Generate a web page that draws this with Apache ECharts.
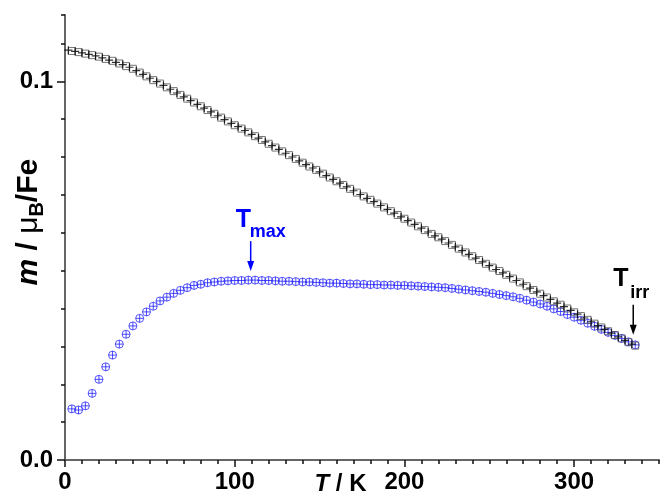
<!DOCTYPE html>
<html>
<head>
<meta charset="utf-8">
<script src="https://cdn.jsdelivr.net/npm/echarts@6/dist/echarts.min.js"></script>
<style>
html,body{margin:0;padding:0;background:#fff;}
#c{width:662px;height:504px;}
</style>
</head>
<body>
<div id="c"></div>
<script>
// ---- data ----
const blackSquareT = [4,8,12,16,20,24,28,32,36,40,44,48,52,56,60,64,68,72,76,80,84,88,92,96,100,104,108,112,116,120,124,128,132,136,140,144,148,152,156,160,164,168,172,176,180,184,188,192,196,200,204,208,212,216,220,224,228,232,236,240,244,248,252,256,260,264,268,272,276,280,284,288,292,296,300,304,308,312,316,320,324,328,332,336];
const blackSquareM = [0.1080,0.1077,0.1073,0.1069,0.1065,0.1059,0.1054,0.1047,0.1040,0.1033,0.1023,0.1013,0.1003,0.0994,0.0984,0.0974,0.0964,0.0954,0.0944,0.0934,0.0924,0.0914,0.0904,0.0894,0.0884,0.0875,0.0865,0.0855,0.0845,0.0835,0.0825,0.0815,0.0805,0.0795,0.0785,0.0775,0.0766,0.0756,0.0746,0.0736,0.0726,0.0716,0.0706,0.0696,0.0687,0.0677,0.0667,0.0657,0.0647,0.0637,0.0627,0.0617,0.0607,0.0597,0.0588,0.0578,0.0568,0.0558,0.0548,0.0538,0.0528,0.0518,0.0508,0.0499,0.0489,0.0479,0.0469,0.0459,0.0449,0.0439,0.0429,0.0419,0.0410,0.0400,0.0390,0.0380,0.0370,0.0360,0.0350,0.0340,0.0330,0.0321,0.0311,0.0302];
const blackCrossT = [2,6,10,14,18,22,26,30,34,38,42,46,50,54,58,62,66,70,74,78,82,86,90,94,98,102,106,110,114,118,122,126,130,134,138,142,146,150,154,158,162,166,170,174,178,182,186,190,194,198,202,206,210,214,218,222,226,230,234,238,242,246,250,254,258,262,266,270,274,278,282,286,290,294,298,302,306,310,314,318,322,326,330,334];
const blackCrossM = [0.1082,0.1079,0.1075,0.1071,0.1067,0.1062,0.1056,0.1050,0.1044,0.1037,0.1028,0.1018,0.1008,0.0999,0.0989,0.0979,0.0969,0.0959,0.0949,0.0939,0.0929,0.0919,0.0909,0.0899,0.0889,0.0880,0.0870,0.0860,0.0850,0.0840,0.0830,0.0820,0.0810,0.0800,0.0790,0.0780,0.0771,0.0761,0.0751,0.0741,0.0731,0.0721,0.0711,0.0701,0.0691,0.0682,0.0672,0.0662,0.0652,0.0642,0.0632,0.0622,0.0612,0.0602,0.0592,0.0583,0.0573,0.0563,0.0553,0.0543,0.0533,0.0523,0.0513,0.0503,0.0494,0.0484,0.0474,0.0464,0.0454,0.0444,0.0434,0.0424,0.0414,0.0405,0.0395,0.0385,0.0375,0.0365,0.0355,0.0345,0.0335,0.0325,0.0316,0.0306];
const blueT = [4,8,12,16,20,24,28,32,36,40,44,48,52,56,60,64,68,72,76,80,84,88,92,96,100,104,108,112,116,120,124,128,132,136,140,144,148,152,156,160,164,168,172,176,180,184,188,192,196,200,204,208,212,216,220,224,228,232,236,240,244,248,252,256,260,264,268,272,276,280,284,288,292,296,300,304,308,312,316,320,324,328,332,336];
const blueM = [0.0135,0.0132,0.0143,0.0176,0.0213,0.0246,0.0277,0.0306,0.0332,0.0354,0.0374,0.0391,0.0406,0.0420,0.0430,0.0440,0.0448,0.0455,0.0461,0.0464,0.0468,0.0470,0.0472,0.0473,0.0474,0.0474,0.0475,0.0475,0.0474,0.0474,0.0473,0.0472,0.0472,0.0471,0.0470,0.0470,0.0469,0.0468,0.0467,0.0467,0.0466,0.0465,0.0465,0.0464,0.0463,0.0463,0.0462,0.0462,0.0461,0.0461,0.0460,0.0459,0.0458,0.0457,0.0456,0.0455,0.0453,0.0451,0.0449,0.0447,0.0445,0.0443,0.0440,0.0437,0.0434,0.0431,0.0427,0.0422,0.0417,0.0412,0.0406,0.0399,0.0392,0.0384,0.0377,0.0369,0.0361,0.0353,0.0345,0.0337,0.0329,0.0321,0.0312,0.0304];
const xMajorTicks = [0,100,200,300];
const yMajorTicks = [0,0.1];
const tMaxPoint = [110, 0.0475];
const tIrrPoint = [336, 0.0304];

const zip = (a,b) => a.map((v,i)=>[v,b[i]]);
const FONT = '"Liberation Sans", Arial, sans-serif';
const crossPath = 'path://M0,5L10,5M5,0L5,10';

const chart = echarts.init(document.getElementById('c'), null, {renderer:'canvas'});
chart.setOption({
  backgroundColor:'#ffffff',
  animation:false,
  grid:{left:65,right:3,top:15,bottom:44,containLabel:false},
  xAxis:[{
    type:'value',min:0,max:350,interval:100,
    axisLine:{show:true,onZero:false,lineStyle:{color:'#666',width:2}},
    axisTick:{show:true,length:7,customValues:xMajorTicks,lineStyle:{color:'#111',width:1.5}},
    axisLabel:{show:true,customValues:xMajorTicks,margin:10,color:'#000',fontSize:24,fontWeight:'bold',fontFamily:FONT},
    splitLine:{show:false}
  },{
    type:'value',min:0,max:350,interval:10,position:'bottom',
    axisLine:{show:false,onZero:false},
    axisTick:{show:true,length:4,lineStyle:{color:'#111',width:1.5}},
    axisLabel:{show:false},splitLine:{show:false}
  }],
  yAxis:[{
    type:'value',min:0,max:0.1175,interval:0.1,
    axisLine:{show:true,onZero:false,lineStyle:{color:'#666',width:2}},
    axisTick:{show:true,length:8,customValues:yMajorTicks,lineStyle:{color:'#111',width:1.5}},
    axisLabel:{show:true,customValues:yMajorTicks,margin:12,color:'#000',fontSize:24,fontWeight:'bold',fontFamily:FONT,
      formatter:v=>Number(v).toFixed(1)},
    splitLine:{show:false}
  },{
    type:'value',min:0,max:0.1175,interval:0.01,position:'left',
    axisLine:{show:false,onZero:false},
    axisTick:{show:true,length:4,lineStyle:{color:'#111',width:1.5}},
    axisLabel:{show:false},splitLine:{show:false}
  }],
  series:[
    {type:'scatter',xAxisIndex:0,yAxisIndex:0,data:zip(blueT,blueM),symbol:'circle',symbolSize:8,
     itemStyle:{color:'transparent',borderColor:'#3030ff',borderWidth:1}},
    {type:'scatter',xAxisIndex:0,yAxisIndex:0,data:zip(blueT,blueM),symbol:crossPath,symbolSize:8,
     itemStyle:{color:'none',borderColor:'#2020ff',borderWidth:1}},
    {type:'scatter',xAxisIndex:0,yAxisIndex:0,data:zip(blackSquareT,blackSquareM),symbol:'rect',symbolSize:7,
     itemStyle:{color:'transparent',borderColor:'#555',borderWidth:1}},
    {type:'scatter',xAxisIndex:0,yAxisIndex:0,data:zip(blackCrossT,blackCrossM),symbol:crossPath,symbolSize:8,
     itemStyle:{color:'none',borderColor:'#000',borderWidth:1.2}}
  ]
});

function arrow(x, y1, y2, color){
  return [
    {type:'line',shape:{x1:x,y1:y1,x2:x,y2:y2-8},style:{stroke:color,lineWidth:1.5},z:10},
    {type:'polygon',shape:{points:[[x-3.5,y2-10],[x+3.5,y2-10],[x,y2]]},style:{fill:color},z:10}
  ];
}
const pMax = chart.convertToPixel({xAxisIndex:0,yAxisIndex:0}, tMaxPoint);
const pIrr = chart.convertToPixel({xAxisIndex:0,yAxisIndex:0}, tIrrPoint);
const pAxisName = chart.convertToPixel({xAxisIndex:0,yAxisIndex:0}, [160,0]);
const pTitle = chart.convertToPixel({xAxisIndex:0,yAxisIndex:0}, [0,0.0628]);

const g = [];
g.push({type:'text',x:pMax[0]-16,y:pMax[1]-72,style:{text:'T',fill:'#0000ff',font:'bold 25px '+FONT,verticalAlign:'top'},z:10});
g.push({type:'text',x:pMax[0]-2,y:pMax[1]-57,style:{text:'max',fill:'#0000ff',font:'bold 18px '+FONT,verticalAlign:'top'},z:10});
g.push(...arrow(pMax[0]-1, pMax[1]-39, pMax[1]-9, '#0000ff'));
g.push({type:'text',x:pIrr[0]-22,y:pIrr[1]-78,style:{text:'T',fill:'#000',font:'bold 25px '+FONT,verticalAlign:'top'},z:10});
g.push({type:'text',x:pIrr[0]-5,y:pIrr[1]-61,style:{text:'irr',fill:'#000',font:'bold 18px '+FONT,verticalAlign:'top'},z:10});
g.push(...arrow(pIrr[0]-2, pIrr[1]-40, pIrr[1]-10, '#000'));
g.push({type:'text',x:pAxisName[0]+4,y:pAxisName[1]+12,
  style:{text:'{i|T}{n| / K}',align:'center',verticalAlign:'top',
    rich:{i:{font:'italic bold 24px '+FONT,fill:'#000'},n:{font:'bold 24px '+FONT,fill:'#000'}}},z:10});
g.push({type:'text',x:29,y:pTitle[1],rotation:Math.PI/2,
  style:{text:'{i|m}{n| / }{u|\u03bc}{s|B}{n|/Fe}',align:'center',verticalAlign:'middle',
    rich:{
      i:{font:'italic bold 30px '+FONT,fill:'#000',lineHeight:36,verticalAlign:'middle'},
      n:{font:'bold 30px '+FONT,fill:'#000',lineHeight:36,verticalAlign:'middle'},
      u:{font:'30px '+FONT,fill:'#000',lineHeight:36,verticalAlign:'middle'},
      s:{font:'bold 20px '+FONT,fill:'#000',lineHeight:36,verticalAlign:'bottom'}
    }},z:10});
chart.setOption({graphic:g});
</script>
</body>
</html>
